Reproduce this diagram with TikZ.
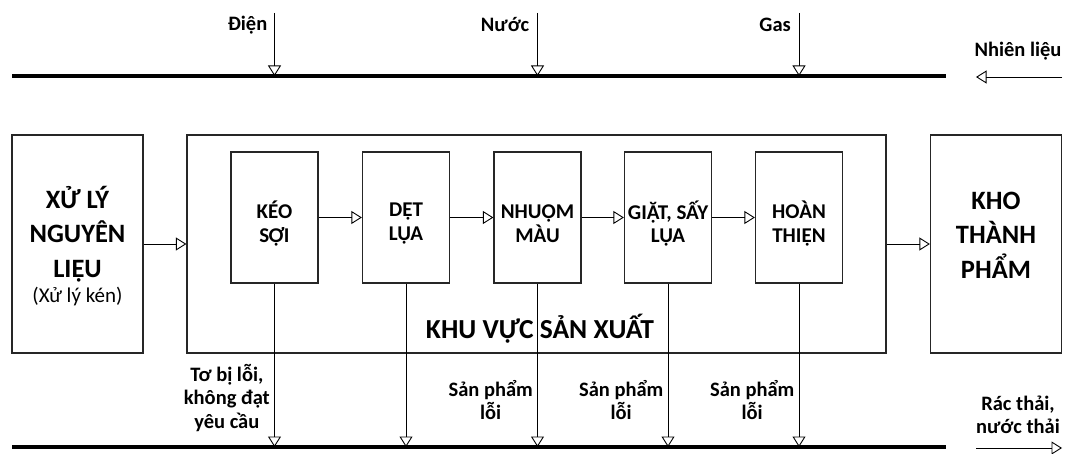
\documentclass[tikz,border=0pt]{standalone}
\usepackage{fontspec}
\setmainfont{Carlito}
\usetikzlibrary{arrows.meta}
\begin{document}
\begin{tikzpicture}[x=1pt,y=-1pt,
  boxline/.style={draw=black!85,line width=1.3pt},
  outerbox/.style={boxline,inner sep=0pt},
  stepfont/.style={align=center,inner sep=0pt,font=\bfseries\fontsize{21}{23.5}\selectfont},
  stepbox/.style={boxline,minimum width=87pt,minimum height=131pt,inner sep=0pt},
  bigtxt/.style={inner sep=0pt,align=center,font=\bfseries\fontsize{26.5}{34.5}\selectfont},
  arr/.style={line width=0.9pt,-{Triangle[open,length=10.5pt,width=13pt,line width=0.9pt]}},
  bus/.style={line width=4.5pt},
  lbl/.style={font=\bfseries\fontsize{20.5}{23.5}\selectfont,align=center,inner sep=0pt}
]
\useasboundingbox (0,0) rectangle (1067,454);

% outer boxes
\node[outerbox,minimum width=131pt,minimum height=218pt] (src) at (77.5,244) {};
\node[outerbox,minimum width=699pt,minimum height=218pt] (prod) at (536.5,244) {};
\node[outerbox,minimum width=131pt,minimum height=218pt] (dst) at (996,244) {};

\node[bigtxt] (srct) at (77.5,234) {XỬ LÝ\\NGUYÊN\\LIỆU};
\node[inner sep=0pt,font=\fontsize{21}{24}\selectfont] (srcs) at (77.5,297) {(Xử lý kén)};
\node[bigtxt] (dstt) at (996,235) {KHO\\THÀNH\\PHẨM};
\node[bigtxt,font=\bfseries\fontsize{27.5}{34}\selectfont] (prodt) at (540,329) {KHU VỰC SẢN XUẤT};

% steps
\node[stepbox,label={[stepfont,yshift=-6pt]center:KÉO\\SỢI}] (k1) at (274.5,217.5) {};
\node[stepbox,label={[stepfont,yshift=-6pt]center:DỆT\\LỤA}] (k2) at (406,217.5) {};
\node[stepbox,label={[stepfont,yshift=-6pt]center:NHUỘM\\MÀU}] (k3) at (537.5,217.5) {};
\node[stepbox,label={[stepfont,yshift=-6pt]center:GIẶT, SẤY\\LỤA}] (k4) at (668,217.5) {};
\node[stepbox,label={[stepfont,yshift=-6pt]center:HOÀN\\THIỆN}] (k5) at (799,217.5) {};

\draw[arr] (src.east) -- (src.east -| prod.west);
\draw[arr] (prod.east) -- (prod.east -| dst.west);
\draw[arr] (k1.east) -- (k2.west);
\draw[arr] (k2.east) -- (k3.west);
\draw[arr] (k3.east) -- (k4.west);
\draw[arr] (k4.east) -- (k5.west);

% top bus
\coordinate (tb1) at (12,76);
\coordinate (tb2) at (946,76);
\draw[bus] (tb1) -- (tb2);
\coordinate (in1) at (274.5,13);
\coordinate (in2) at (537.5,13);
\coordinate (in3) at (799,13);
\draw[arr] (in1) -- (in1 |- tb1);
\draw[arr] (in2) -- (in2 |- tb1);
\draw[arr] (in3) -- (in3 |- tb1);
\node[lbl,anchor=east] (l1) at (267.5,25) {Điện};
\node[lbl,anchor=east] (l2) at (529.5,25) {Nước};
\node[lbl,anchor=east] (l3) at (791,25) {Gas};
\coordinate (f1) at (1062,77);
\coordinate (f2) at (976,77);
\draw[arr] (f1) -- (f2);
\node[lbl] (l4) at (1018,51) {Nhiên liệu};

% bottom bus
\coordinate (bb1) at (12,447);
\coordinate (bb2) at (946,447);
\draw[bus] (bb1) -- (bb2);
\draw[arr] (k1.south) -- (k1.south |- bb1);
\draw[arr] (k2.south) -- (k2.south |- bb1);
\draw[arr] (k3.south) -- (k3.south |- bb1);
\draw[arr] (k4.south) -- (k4.south |- bb1);
\draw[arr] (k5.south) -- (k5.south |- bb1);
\node[lbl,anchor=east] (w1) at (270,398) {Tơ bị lỗi,\\không đạt\\yêu cầu};
\node[lbl,anchor=east] (w3) at (533,400) {Sản phẩm\\lỗi};
\node[lbl,anchor=east] (w4) at (663.5,400) {Sản phẩm\\lỗi};
\node[lbl,anchor=east] (w5) at (794.5,400) {Sản phẩm\\lỗi};
\coordinate (o1) at (976,448);
\coordinate (o2) at (1062,448);
\draw[arr] (o1) -- (o2);
\node[lbl] (l5) at (1018,415) {Rác thải,\\nước thải};
\end{tikzpicture}
\end{document}
